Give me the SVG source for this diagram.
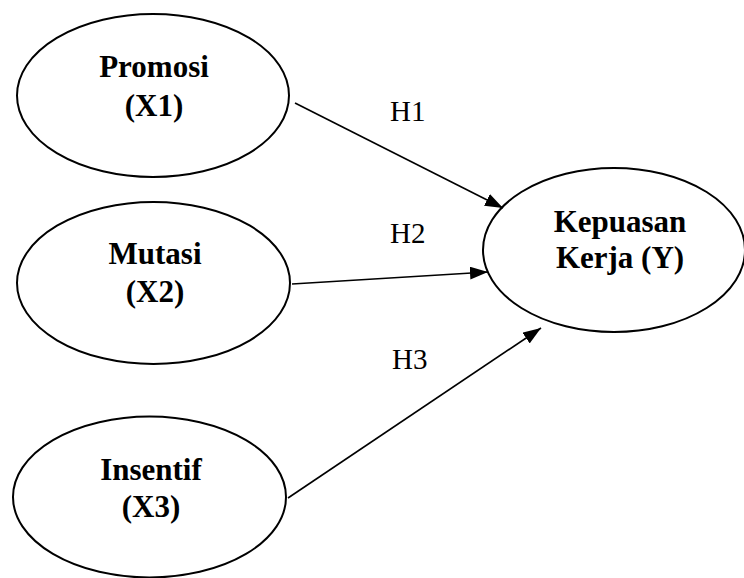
<svg xmlns="http://www.w3.org/2000/svg" width="744" height="578" viewBox="0 0 744 578">
<style>
.node ellipse{fill:#fff;stroke:#000;stroke-width:2}
.node text{font-family:"Liberation Serif","Times New Roman",serif;font-weight:bold;font-size:31px;text-anchor:middle;fill:#000}
.lbl{font-family:"Liberation Serif","Times New Roman",serif;font-size:29px;fill:#000}
.conn line{stroke:#000;stroke-width:1.6;fill:none}
</style>
<defs>
<marker id="ah" markerUnits="userSpaceOnUse" markerWidth="18" markerHeight="13" refX="18" refY="6.5" orient="auto">
<path d="M0,0 L18,6.5 L0,13 z" fill="#000"/>
</marker>
</defs>
<rect width="744" height="578" fill="#fff"/>
<g id="promosi" class="node">
<ellipse cx="153" cy="95.5" rx="136" ry="81.5"/>
<text x="154" y="77">Promosi</text>
<text x="154" y="116">(X1)</text>
</g>
<g id="mutasi" class="node">
<ellipse cx="153.5" cy="283" rx="136.5" ry="81"/>
<text x="155" y="264">Mutasi</text>
<text x="155" y="302">(X2)</text>
</g>
<g id="insentif" class="node">
<ellipse cx="149.5" cy="497" rx="136.5" ry="80.5"/>
<text x="151" y="480">Insentif</text>
<text x="151" y="517">(X3)</text>
</g>
<g id="kepuasan" class="node">
<ellipse cx="614" cy="250" rx="131" ry="82"/>
<text x="620" y="232">Kepuasan</text>
<text x="620" y="268">Kerja (Y)</text>
</g>
<g id="connectors" class="conn">
<line x1="295" y1="103" x2="503" y2="208" marker-end="url(#ah)"/>
<line x1="292" y1="284" x2="488" y2="272" marker-end="url(#ah)"/>
<line x1="288" y1="498" x2="541" y2="328" marker-end="url(#ah)"/>
</g>
<g id="labels">
<text class="lbl" x="390" y="121">H1</text>
<text class="lbl" x="390" y="243">H2</text>
<text class="lbl" x="392" y="369">H3</text>
</g>
</svg>
